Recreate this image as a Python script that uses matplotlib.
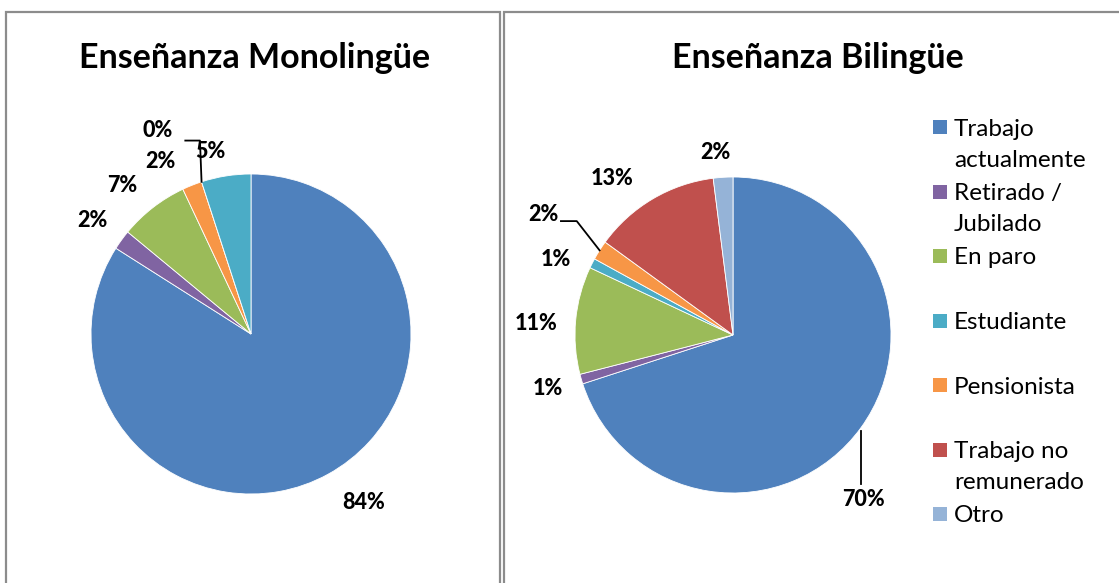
import numpy as np
import matplotlib
matplotlib.use("Agg")
import matplotlib.pyplot as plt
from matplotlib.patches import Rectangle
from matplotlib.lines import Line2D

# ---------------- data ----------------
categories = ["Trabajo actualmente", "Retirado / Jubilado", "En paro", "Estudiante",
              "Pensionista", "Trabajo no remunerado", "Otro"]
legend_labels = ["Trabajo\nactualmente", "Retirado /\nJubilado", "En paro", "Estudiante",
                 "Pensionista", "Trabajo no\nremunerado", "Otro"]
colors = {"Trabajo actualmente": "#4F81BD", "Retirado / Jubilado": "#8064A2",
          "En paro": "#9BBB59", "Estudiante": "#4BACC6", "Pensionista": "#F79646",
          "Trabajo no remunerado": "#C0504D", "Otro": "#95B3D7"}

mono_title = "Enseñanza Monolingüe"
mono_cats = ["Trabajo actualmente", "Retirado / Jubilado", "En paro", "Pensionista",
             "Trabajo no remunerado", "Estudiante"]
mono_vals = [84, 2, 7, 2, 0, 5]

bil_title = "Enseñanza Bilingüe"
bil_cats = categories
bil_vals = [70, 1, 11, 1, 2, 13, 2]

# ---------------- layout ----------------
W, H = 1119, 583
fig = plt.figure(figsize=(W / 100, H / 100), dpi=100)
FONT = "Lato"

def px_rect(x0, y0, x1, y1):
    return [x0 / W, 1 - y1 / H, (x1 - x0) / W, (y1 - y0) / H]

# panel borders
for (x0, x1) in [(6, 500), (504, 1125)]:
    fig.patches.append(Rectangle((x0 / W, -0.05), (x1 - x0) / W, 1.05 - 12 / H,
                                 transform=fig.transFigure, fill=False,
                                 edgecolor="#8c8c8c", linewidth=1.6))

# label layout: (angle nudge in degrees, radial distance) per slice
mono_layout = [(5, 1.27), (0.5, 1.22), (3, 1.23), (6, 1.22), (6.5, 1.40), (3.5, 1.17)]
bil_layout = [(-15.7, 1.33), (0, 1.22), (2, 1.25), (4, 1.22), (0, 1.42), (7, 1.25), (2, 1.16)]


def draw_pie(cx, cy, r, cats, vals, layout, title, tx, leaders):
    half = 210
    ax = fig.add_axes(px_rect(cx - half, cy - half, cx + half, cy + half))
    wedges, _ = ax.pie(vals, colors=[colors[c] for c in cats], startangle=90,
                       counterclock=False, radius=1.0,
                       wedgeprops=dict(edgecolor="white", linewidth=0.6))
    lim = half / r
    ax.set_xlim(-lim, lim)
    ax.set_ylim(-lim, lim)
    ax.set_aspect("equal")
    ax.axis("off")
    total = float(sum(vals))
    start = 90.0
    for i, v in enumerate(vals):
        span = 360.0 * v / total
        mid = start - span / 2
        end = start - span
        nudge, dist = layout[i]
        ang = np.deg2rad(mid + nudge)
        lx, ly = dist * np.cos(ang), dist * np.sin(ang)
        ax.text(lx, ly, f"{v:.0f}%", ha="center", va="center", fontsize=15.5,
                fontweight="black", family=FONT, color="black")
        if i in leaders:
            kind = leaders[i]
            if kind == "down":
                ex, ey = np.cos(np.deg2rad(mid)), np.sin(np.deg2rad(mid))
                ax.add_line(Line2D([ex, ex], [ey - 0.02, ly + 0.1], color="black", lw=1.3))
            elif kind == "elbow_mono":
                ex, ey = np.cos(np.deg2rad(end)), np.sin(np.deg2rad(end))
                ax.add_line(Line2D([ex, ex - 0.01, lx + 0.17], [ey, ly - 0.065, ly - 0.065],
                                   color="black", lw=1.3))
            elif kind == "elbow_bil":
                ex, ey = np.cos(np.deg2rad(mid)), np.sin(np.deg2rad(mid))
                ax.add_line(Line2D([ex, lx + 0.21, lx + 0.11], [ey, ly - 0.04, ly - 0.04],
                                   color="black", lw=1.3))
        start = end
    fig.text(tx / W, 1 - 58 / H, title, ha="center", va="center", fontsize=24.5,
             fontweight="bold", family=FONT)
    return ax


draw_pie(251, 334, 160, mono_cats, mono_vals, mono_layout, mono_title, 255,
         leaders={4: "elbow_mono"})
draw_pie(733, 335, 158, bil_cats, bil_vals, bil_layout, bil_title, 818,
         leaders={0: "down", 4: "elbow_bil"})

# legend
y0, step, line_gap = 127, 64.5, 31
for i, cat in enumerate(categories):
    y = y0 + i * step
    fig.patches.append(Rectangle((933 / W, 1 - (y + 7) / H), 14 / W, 14 / H,
                                 transform=fig.transFigure, facecolor=colors[cat],
                                 edgecolor="none"))
    for j, line in enumerate(legend_labels[i].split("\n")):
        fig.text(954 / W, 1 - (y + j * line_gap) / H, line, ha="left", va="center_baseline",
                 fontsize=17.5, family=FONT)

fig.savefig("out.png", dpi=100)
